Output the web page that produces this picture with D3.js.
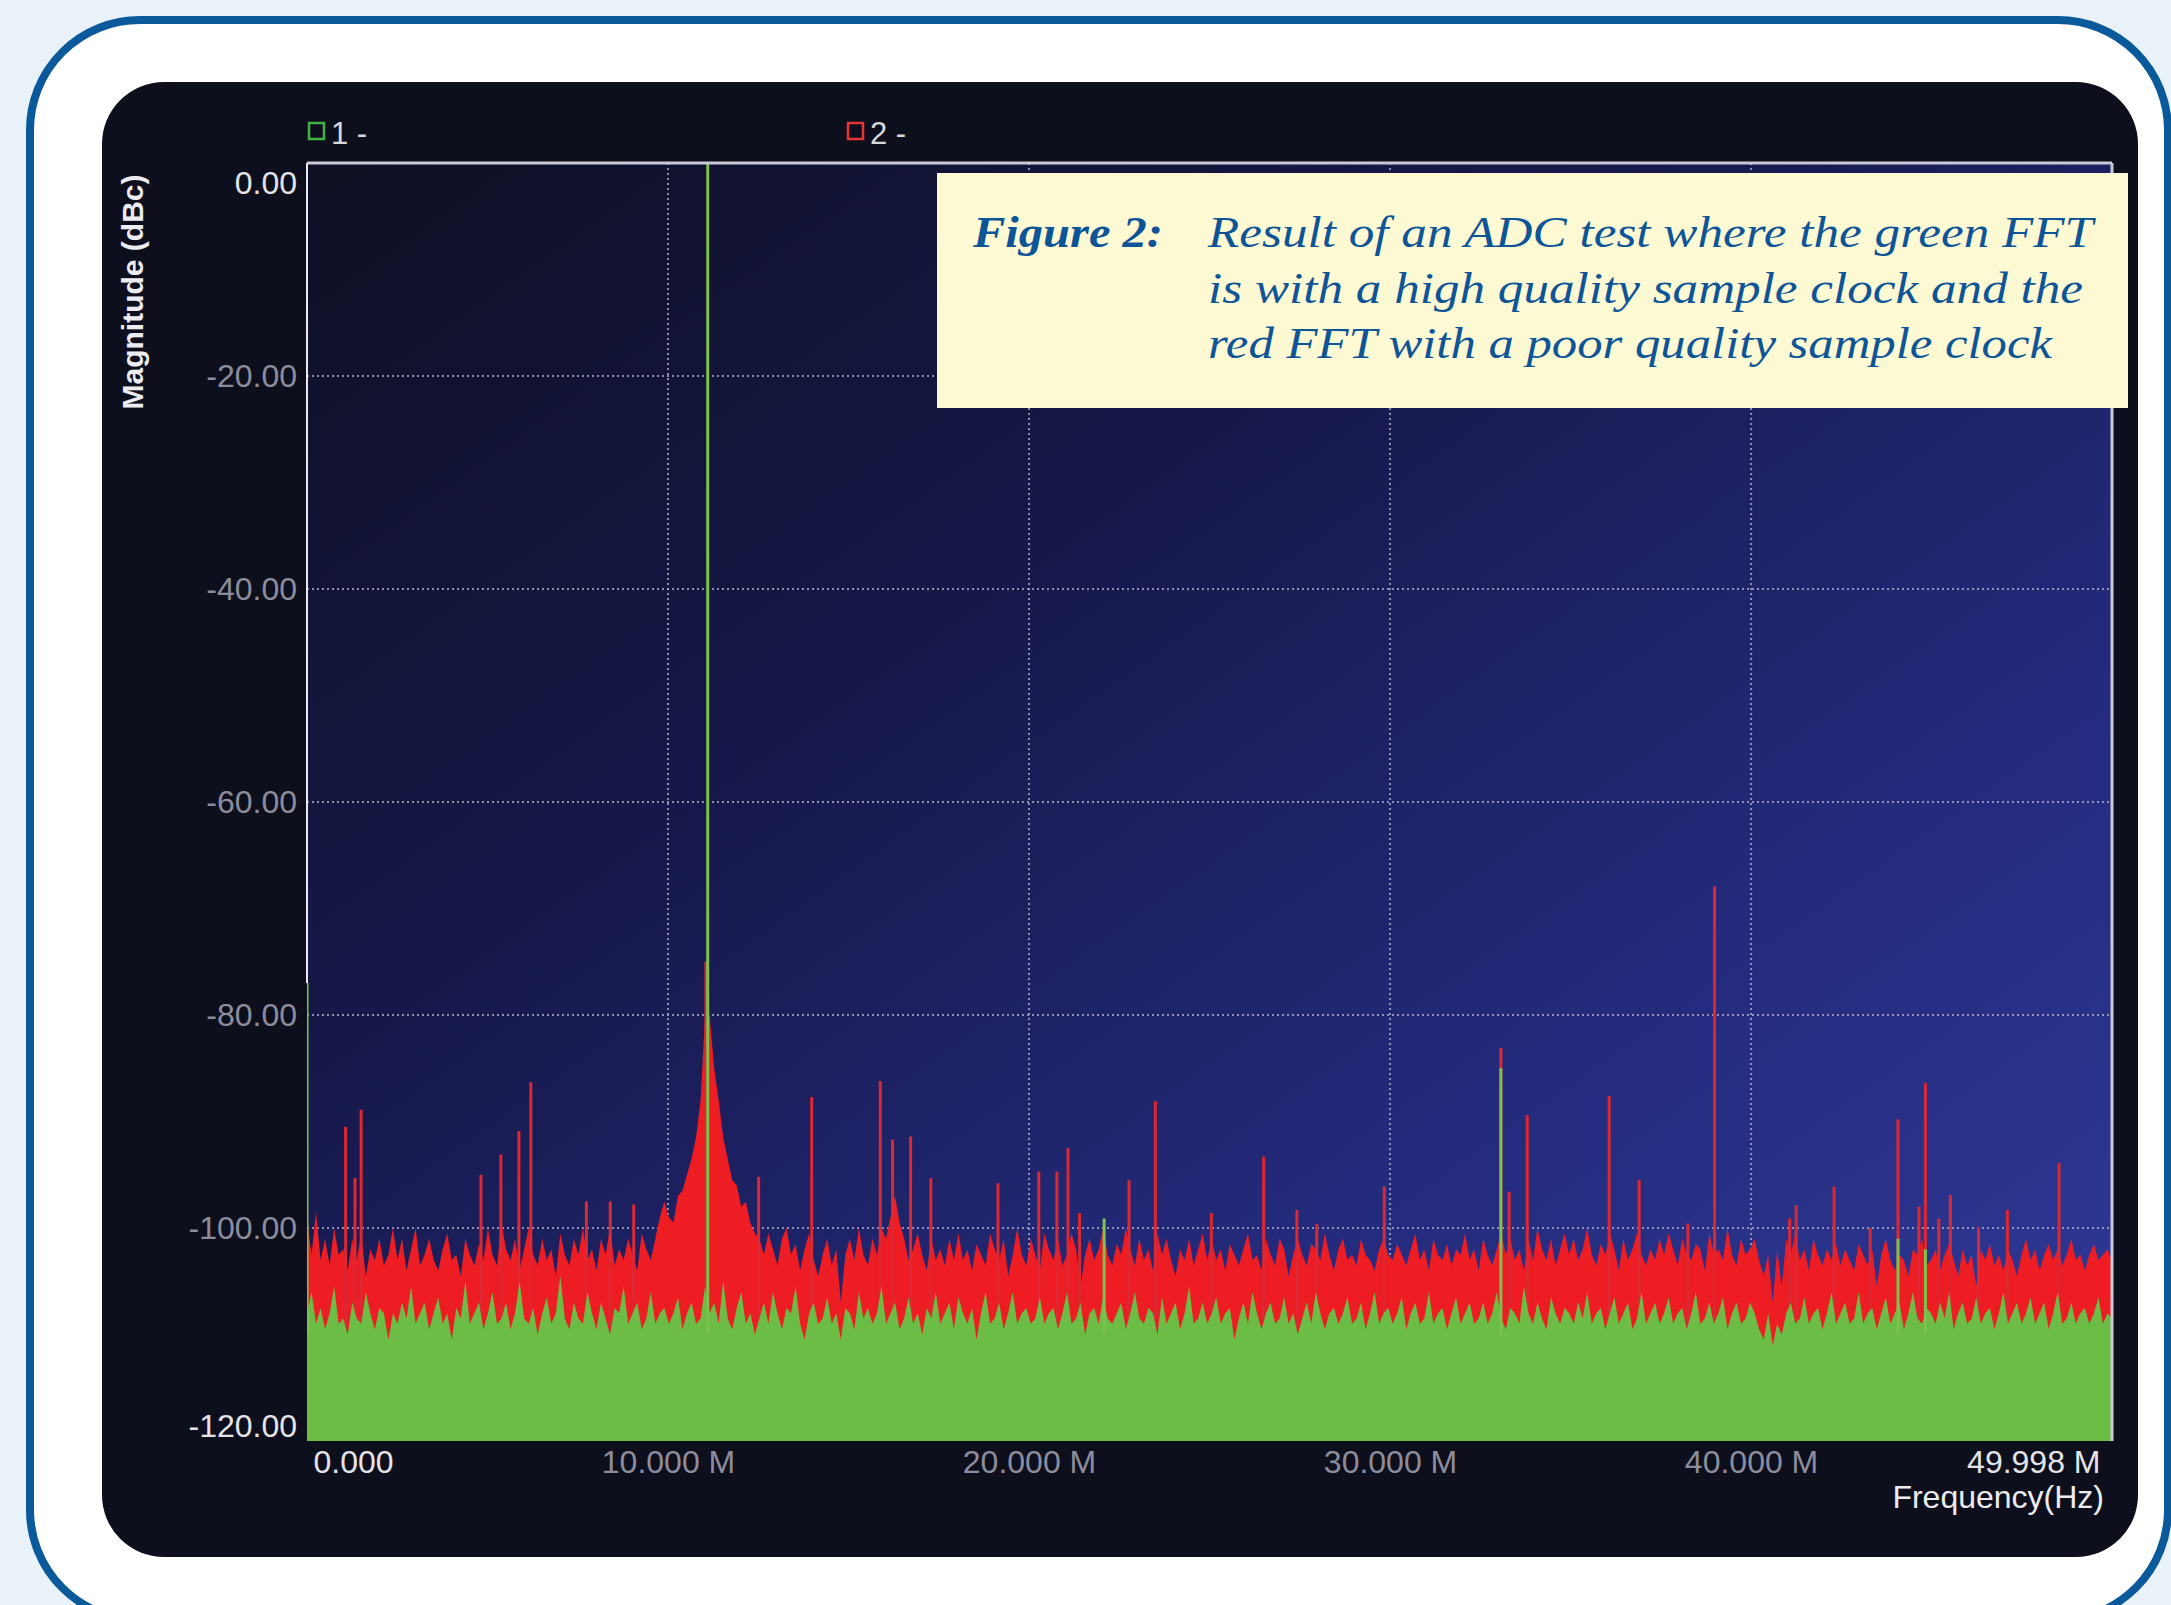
<!DOCTYPE html>
<html>
<head>
<meta charset="utf-8">
<script src="https://cdn.jsdelivr.net/npm/d3@7"></script>
<style>
html, body { margin: 0; padding: 0; background: #e9f1f9; }
svg { display: block; }
</style>
</head>
<body>
<svg width="2171" height="1605"></svg>
<script>
// axis setup (frequency in MHz, magnitude in dBc)
var freqMax = 49.998;
var yTicks = [0, -20, -40, -60, -80, -100, -120];
var yTickLabels = ['0.00', '-20.00', '-40.00', '-60.00', '-80.00', '-100.00', '-120.00'];
var xTicks = [0, 10, 20, 30, 40, 49.998];
var xTickLabels = ['0.000', '10.000 M', '20.000 M', '30.000 M', '40.000 M', '49.998 M'];

var legendNames = ['1 -', '2 -'];
var captionLabel = 'Figure 2:';
var captionLines = [
  'Result of an ADC test where the green FFT',
  'is with a high quality sample clock and the',
  'red FFT with a poor quality sample clock'
];

// red FFT (poor clock) noise floor, one value per bin, 0 .. 49.998 MHz
var redNoise = [
  -99, -102.5, -98.5, -103, -101, -103.5, -100, -102.5, -102, -104, -101, -103, -100.5, -104.5, -102, -103, -101, -103.5, -102.5, -100,
  -103, -101, -104, -102, -100, -103.5, -102.5, -101, -103, -104, -102, -100.5, -103, -102.5, -104.5, -101, -102.5, -103.5, -101.5, -103,
  -100, -102.5, -103.5, -99.5, -102, -103, -101, -104, -102, -100, -102.5, -103.5, -101, -103, -102, -104.5, -100.5, -102.5, -103.5, -101,
  -102.5, -100, -103, -102, -104, -101, -102.5, -100, -103.5, -102, -103, -101, -102.5, -104, -100.5, -102, -103, -101, -99, -97.5,
  -99, -99.5, -97, -96.5, -95, -93.5, -91.5, -88, -80, -80, -85, -88, -91.5, -93.5, -95.5, -96, -98, -97.5, -99.5, -100.5,
  -101, -102.5, -100.5, -102, -103.5, -101, -100, -102.5, -101.5, -104, -102, -100.5, -103, -104.5, -102.5, -101, -103.5, -102, -107, -102.5,
  -101, -103, -100, -102.5, -103.5, -101, -102.5, -100, -101, -99, -97, -99.5, -101, -103, -102, -100.5, -102.5, -104, -101, -103,
  -102, -103.5, -101, -103, -100.5, -103, -102, -104, -101.5, -102.5, -103.5, -100.5, -102, -103, -101, -104.5, -102.5, -100, -102.5, -103.5,
  -101, -102.5, -104, -100.5, -102, -103, -101, -103.5, -102.5, -100.5, -102, -105.5, -102.5, -101, -103, -102, -100, -102.5, -103.5, -101.5,
  -102.5, -100, -102, -103.5, -101, -103, -102, -104, -100.5, -102.5, -101, -103, -104.5, -102, -103, -101, -103.5, -102, -100.5, -103,
  -101, -103, -102, -104, -101.5, -102.5, -103.5, -102, -100.5, -103, -102.5, -104, -101, -102.5, -103.5, -101, -102, -104.5, -102.5, -101,
  -102.5, -103.5, -101.5, -102, -103, -100.5, -102.5, -104, -102, -101, -103, -102.5, -103.5, -101, -102.5, -103, -104, -102, -101, -102.5,
  -103, -101.5, -102.5, -103.5, -102, -100.5, -103, -102, -104, -101, -102.5, -103, -101.5, -103.5, -102, -102.5, -100.5, -103, -102, -104,
  -101, -102.5, -103.5, -102, -100.5, -102.5, -101, -103, -102, -104, -101, -103, -100, -102, -103, -101, -103.5, -102, -100.5, -102.5,
  -101, -103, -102, -100, -102.5, -103.5, -101.5, -102.5, -100.5, -102, -104, -101, -103, -102, -100.5, -102.5, -103.5, -102, -103, -101,
  -102.5, -100.5, -102, -103.5, -101, -102.5, -103, -101.5, -102, -104, -100.5, -102.5, -102, -103, -100, -102.5, -103.5, -101, -102.5, -102,
  -101, -103, -104.5, -102.5, -107, -102, -105.5, -101, -102.5, -100.5, -103, -102, -104, -101, -102.5, -103.5, -102, -103, -101.5, -103.5,
  -102, -103, -104, -101.5, -102.5, -103.5, -102, -105.5, -102.5, -101, -103, -104, -102.5, -103, -104.5, -102, -102.5, -101, -103.5, -103,
  -102, -104, -102.5, -101.5, -103, -104.5, -102, -103.5, -102.5, -105.5, -102, -103, -101.5, -103.5, -102.5, -104, -102, -103, -104.5, -102.5,
  -101, -103, -102, -104, -102.5, -101.5, -103, -102, -103.5, -102.5, -101, -103, -102.5, -104, -102.5, -101.5, -103, -102.5, -102, -103
];

// green FFT (good clock) noise floor, same bins
var greenNoise = [
  -108, -106, -109, -107.5, -109.5, -108, -105.5, -109, -108.5, -110, -107, -108.5, -109, -106, -108, -109.5, -107.5, -108, -110.5, -108,
  -109, -107, -108.5, -105.5, -109, -108, -107, -109.5, -108, -106.5, -109, -108, -110.5, -107.5, -108.5, -105, -109, -108, -107, -109.5,
  -108, -106, -109, -108.5, -107, -109.5, -108, -105, -108.5, -109, -107.5, -110, -108, -106.5, -109, -108, -104.5, -108.5, -109.5, -107,
  -108.5, -109, -106, -108, -109.5, -107, -108.5, -110, -107.5, -108, -105.5, -109, -108, -107, -109.5, -108.5, -106, -109, -108, -107.5,
  -109, -108, -106.5, -109.5, -108, -107, -109, -108.5, -105.5, -108, -107, -109, -105, -108.5, -109.5, -107.5, -106, -109, -108, -110,
  -108.5, -107, -109, -106, -108, -109.5, -107.5, -108, -105.5, -109, -110.5, -108, -107, -109, -108.5, -106.5, -109, -108, -110.5, -107.5,
  -108, -109.5, -106, -108.5, -107.5, -109, -108, -105.5, -109, -108, -107, -109.5, -108.5, -106.5, -109, -108, -110, -107.5, -108.5, -106,
  -109, -108, -107, -109.5, -106.5, -108, -109, -107.5, -110.5, -108, -106, -109, -108.5, -107, -109.5, -108, -106, -109, -108, -107.5,
  -109, -108.5, -106.5, -109, -108, -107.5, -109.5, -108, -106, -109, -108.5, -107, -110, -108, -107.5, -109, -106.5, -108.5, -109, -108,
  -107, -109.5, -108, -106, -108.5, -109, -107.5, -108, -110, -106.5, -109, -108, -107, -109.5, -108, -105.5, -109, -108.5, -107, -109,
  -108, -106.5, -109, -108, -107.5, -110.5, -108.5, -107, -109, -106, -108, -109.5, -108, -107, -109, -108.5, -106.5, -109, -108, -110,
  -108.5, -107, -109, -106, -108, -109.5, -108, -107.5, -109, -108, -106.5, -109, -108.5, -107, -109.5, -108, -106, -109, -108, -107.5,
  -109, -108, -106.5, -109.5, -108, -107, -109, -108.5, -106, -109, -108, -107.5, -109.5, -108, -106.5, -109, -108, -107, -109, -108.5,
  -107, -109, -108, -106, -108.5, -109.5, -107.5, -108, -109, -105.5, -108, -109, -107, -108.5, -109.5, -106.5, -108, -109, -107.5, -108,
  -109, -107, -108.5, -106, -109, -108, -107.5, -109.5, -108, -106.5, -109, -108, -107, -109.5, -108.5, -106, -109, -108, -107, -109,
  -108, -106.5, -109, -108, -107.5, -109.5, -108, -106, -109, -108.5, -107, -109, -108, -106.5, -109.5, -108, -107, -109, -108.5, -107,
  -108, -109.5, -110.5, -108, -111, -109, -110, -108, -107, -109, -108.5, -106.5, -109, -108, -107.5, -109.5, -108, -106, -109, -108,
  -107, -109, -108.5, -106, -109, -108, -107.5, -109.5, -108, -106.5, -109, -108, -107, -109.5, -108, -106, -108.5, -109, -107.5, -108,
  -109, -107, -108.5, -106, -109.5, -108, -107, -109, -108.5, -106.5, -109, -108, -107.5, -109.5, -108, -106, -109, -108, -107, -109,
  -108, -106.5, -109, -108, -107, -109.5, -108, -106, -109, -108.5, -107, -109, -108, -107.5, -109, -108, -106.5, -109, -108, -108.5
];

// discrete spurs (MHz, dBc)
var redSpurFreq = [1.07, 1.33, 1.5, 4.82, 5.37, 5.87, 6.2, 7.74, 8.4, 9.05, 11.05, 12.51, 13.98, 15.88, 16.22, 16.72, 17.28,
  19.14, 20.27, 20.77, 21.08, 21.4, 22.77, 23.5, 25.05, 26.5, 27.42, 27.97, 29.84, 33.07, 33.3, 33.8, 36.07, 36.9,
  38.25, 38.99, 41.07, 41.25, 42.3, 43.3, 44.07, 44.65, 44.83, 45.2, 45.52, 46.3, 47.1, 48.53];
var redSpurDb = [-90.5, -95.3, -88.9, -95.0, -93.1, -90.9, -86.3, -97.5, -97.5, -97.8, -75.0, -95.2, -87.7, -86.2, -91.7, -91.4, -95.3,
  -95.8, -94.7, -94.7, -92.5, -98.6, -95.5, -88.1, -98.6, -93.3, -98.3, -99.6, -96.1, -83.1, -96.6, -89.4, -87.6, -95.5,
  -99.6, -67.9, -99.1, -97.9, -96.1, -100.0, -89.8, -98.0, -86.4, -99.1, -96.9, -99.9, -98.3, -93.9];
var greenSpurFreq = [0, 11.1, 22.08, 33.07, 44.07, 44.83];
var greenSpurDb = [-77, 0, -99.1, -85, -101, -102];

var svg = d3.select('svg');
var plotL = 307, plotR = 2112, plotT = 163, plotB = 1441;

var x = d3.scaleLinear().domain([0, freqMax]).range([plotL, plotR]);
var y = d3.scaleLinear().domain([-120, 0]).range([plotB, plotT]);

function binFreq(i, n){ return i * freqMax / (n - 1); }

var defs = svg.append('defs');
var grad = defs.append('linearGradient').attr('id', 'plotbg')
    .attr('x1', 0).attr('y1', 0).attr('x2', 1).attr('y2', 1);
grad.append('stop').attr('offset', '0%').attr('stop-color', '#0e0f22');
grad.append('stop').attr('offset', '35%').attr('stop-color', '#161849');
grad.append('stop').attr('offset', '70%').attr('stop-color', '#242b7d');
grad.append('stop').attr('offset', '100%').attr('stop-color', '#2f3998');
defs.append('clipPath').attr('id', 'plotclip')
  .append('rect').attr('x', plotL).attr('y', plotT).attr('width', plotR - plotL).attr('height', plotB - plotT);

// page frame
svg.append('rect').attr('width', 2171).attr('height', 1605).attr('fill', '#e9f1f9');
svg.append('rect')
    .attr('x', 30).attr('y', 20).attr('width', 2138).attr('height', 1600)
    .attr('rx', 110).attr('ry', 110)
    .attr('fill', '#ffffff').attr('stroke', '#0a5a9b').attr('stroke-width', 8);
svg.append('rect')
    .attr('x', 102).attr('y', 82).attr('width', 2036).attr('height', 1475)
    .attr('rx', 62).attr('ry', 62)
    .attr('fill', '#0e0f1d');

// plot background
svg.append('rect').attr('x', plotL).attr('y', plotT).attr('width', plotR - plotL).attr('height', plotB - plotT)
    .attr('fill', 'url(#plotbg)');

// dotted grid
var grid = svg.append('g');
grid.selectAll('line.h').data(yTicks.filter(function(d){ return d < 0 && d > -120; }))
  .enter().append('line')
    .attr('class', 'h')
    .attr('x1', plotL).attr('x2', plotR)
    .attr('y1', function(d){ return y(d); }).attr('y2', function(d){ return y(d); });
grid.selectAll('line.v').data(xTicks.filter(function(d){ return d > 0 && d < freqMax; }))
  .enter().append('line')
    .attr('class', 'v')
    .attr('y1', plotT).attr('y2', plotB)
    .attr('x1', function(d){ return x(d); }).attr('x2', function(d){ return x(d); });
grid.selectAll('line')
    .attr('stroke', '#b4b6cc').attr('stroke-width', 2)
    .attr('stroke-dasharray', '2,3').attr('opacity', 0.75);

var plot = svg.append('g').attr('clip-path', 'url(#plotclip)');

var redArea = d3.area()
    .x(function(d, i){ return x(binFreq(i, redNoise.length)); })
    .y0(y(-120))
    .y1(function(d){ return y(d); });
var greenArea = d3.area()
    .x(function(d, i){ return x(binFreq(i, greenNoise.length)); })
    .y0(y(-120))
    .y1(function(d){ return y(d); });

plot.append('path').datum(redNoise).attr('d', redArea).attr('fill', '#ee1d24');
plot.selectAll('line.redspur').data(redSpurFreq)
  .enter().append('line')
    .attr('class', 'redspur')
    .attr('x1', function(d){ return x(d); }).attr('x2', function(d){ return x(d); })
    .attr('y1', y(-110))
    .attr('y2', function(d, i){ return y(redSpurDb[i]); })
    .attr('stroke', '#dc2832').attr('stroke-width', 3);
plot.append('path').datum(greenNoise).attr('d', greenArea).attr('fill', '#6bbd46');
plot.selectAll('line.greenspur').data(greenSpurFreq)
  .enter().append('line')
    .attr('class', 'greenspur')
    .attr('x1', function(d){ return x(d); }).attr('x2', function(d){ return x(d); })
    .attr('y1', y(-110))
    .attr('y2', function(d, i){ return y(greenSpurDb[i]); })
    .attr('stroke', '#7cc24c').attr('stroke-width', 3);

// plot frame
svg.append('line').attr('x1', plotL).attr('x2', plotR).attr('y1', plotT).attr('y2', plotT)
    .attr('stroke', '#c9cad6').attr('stroke-width', 3);
svg.append('line').attr('x1', plotR).attr('x2', plotR).attr('y1', plotT).attr('y2', plotB)
    .attr('stroke', '#c9cad6').attr('stroke-width', 3);
svg.append('line').attr('x1', plotL).attr('x2', plotL).attr('y1', plotT).attr('y2', y(-77))
    .attr('stroke', '#e8e8ee').attr('stroke-width', 2);

// axes
var yAxis = svg.append('g').attr('transform', 'translate(' + plotL + ',0)')
    .call(d3.axisLeft(y).tickValues(yTicks).tickSize(0).tickPadding(10)
      .tickFormat(function(d, i){ return yTickLabels[i]; }));
var xAxis = svg.append('g').attr('transform', 'translate(0,' + plotB + ')')
    .call(d3.axisBottom(x).tickValues(xTicks).tickSize(0).tickPadding(9)
      .tickFormat(function(d, i){ return xTickLabels[i]; }));
[yAxis, xAxis].forEach(function(ax){
  ax.select('.domain').remove();
  ax.selectAll('text')
      .attr('font-family', '"Liberation Sans", Arial, sans-serif')
      .attr('font-size', 32)
      .attr('fill', function(d, i, nodes){ return (i === 0 || i === nodes.length - 1) ? '#e4e4e8' : '#8c8d9c'; });
});
yAxis.selectAll('text')
    .attr('y', function(d, i){ return i === 0 ? 20 : (i === yTicks.length - 1 ? -15 : 0); });
xAxis.selectAll('text')
    .attr('text-anchor', function(d, i){ return i === 0 ? 'start' : (i === xTicks.length - 1 ? 'end' : 'middle'); })
    .attr('x', function(d, i){ return i === 0 ? 6 : (i === xTicks.length - 1 ? -12 : 0); });

svg.append('text')
    .attr('transform', 'translate(143,292) rotate(-90)')
    .attr('text-anchor', 'middle')
    .attr('font-family', '"Liberation Sans", Arial, sans-serif')
    .attr('font-weight', 'bold').attr('font-size', 30)
    .attr('fill', '#ececf0')
    .text('Magnitude (dBc)');
svg.append('text')
    .attr('x', 2104).attr('y', 1508)
    .attr('text-anchor', 'end')
    .attr('font-family', '"Liberation Sans", Arial, sans-serif')
    .attr('font-size', 32)
    .attr('fill', '#ececf0')
    .text('Frequency(Hz)');

// legend
var legendX = [309, 848];
var legendColor = ['#45b043', '#e53535'];
var legend = svg.selectAll('g.legend').data(legendNames)
  .enter().append('g')
    .attr('class', 'legend')
    .attr('transform', function(d, i){ return 'translate(' + legendX[i] + ',123)'; });
legend.append('rect').attr('x', 0).attr('y', 0).attr('width', 15).attr('height', 16)
    .attr('fill', 'none').attr('stroke-width', 2.5)
    .attr('stroke', function(d, i){ return legendColor[i]; });
legend.append('text').attr('x', 22).attr('y', 21)
    .attr('font-family', '"Liberation Sans", Arial, sans-serif')
    .attr('font-size', 31).attr('fill', '#d8d8dc')
    .text(function(d){ return d; });

// caption box
svg.append('rect').attr('x', 937).attr('y', 173).attr('width', 1191).attr('height', 235)
    .attr('fill', '#fdf9d3');
var caption = svg.append('g')
    .attr('font-family', '"Liberation Serif", "Times New Roman", serif')
    .attr('font-style', 'italic').attr('font-size', 44).attr('fill', '#0d5597');
caption.append('text').attr('x', 973).attr('y', 247)
    .attr('font-weight', 'bold')
    .attr('textLength', 190).attr('lengthAdjust', 'spacingAndGlyphs')
    .text(captionLabel);
var lineWidths = [885, 875, 844];
caption.selectAll('text.line').data(captionLines)
  .enter().append('text')
    .attr('class', 'line')
    .attr('x', 1208)
    .attr('y', function(d, i){ return 247 + i * 55.5; })
    .attr('textLength', function(d, i){ return lineWidths[i]; })
    .attr('lengthAdjust', 'spacingAndGlyphs')
    .text(function(d){ return d; });
</script>
</body>
</html>
